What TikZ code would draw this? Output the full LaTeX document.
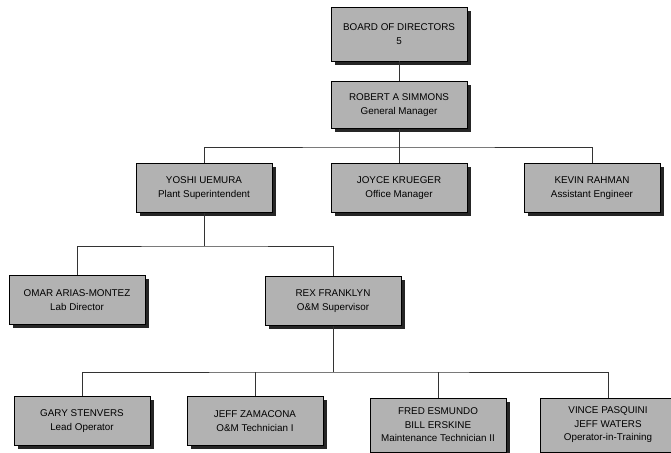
\documentclass[tikz,border=0pt]{standalone}
\usepackage{fontspec}
\setmainfont{Liberation Sans}
\usetikzlibrary{shadows}

\begin{document}
\begin{tikzpicture}[x=0.025cm, y=-0.025cm,
  staffbox/.style={rectangle, draw=black, line width=0.4pt, fill=black!30,
    minimum width=3.4cm, minimum height=1.22cm, align=center,
    font=\fontsize{7}{9.6}\selectfont,
    drop shadow={shadow xshift=0.09cm, shadow yshift=-0.09cm, fill=black!85, opacity=1}},
  link/.style={draw=black!80, line width=0.7pt}]
  \useasboundingbox (0,0) rectangle (671,453);
  \node[staffbox, minimum height=1.35cm] (board) at (399,34)  {BOARD OF DIRECTORS\\5};
  \node[staffbox, minimum height=1.18cm] (gm)    at (399,105) {ROBERT A SIMMONS\\General Manager};
  \node[staffbox] (plant)  at (204,188) {YOSHI UEMURA\\Plant Superintendent};
  \node[staffbox] (office) at (399,188) {JOYCE KRUEGER\\Office Manager};
  \node[staffbox] (asst)   at (592,188) {KEVIN RAHMAN\\Assistant Engineer};
  \node[staffbox] (lab)    at (77,300)  {OMAR ARIAS-MONTEZ\\Lab Director};
  \node[staffbox] (om)     at (333,301) {REX FRANKLYN\\O\&M Supervisor};
  \node[staffbox] (lead)   at (82,421)  {GARY STENVERS\\Lead Operator};
  \node[staffbox] (tech)   at (255,421) {JEFF ZAMACONA\\O\&M Technician I};
  \node[staffbox, minimum height=1.35cm] (maint) at (438,425) {FRED ESMUNDO\\BILL ERSKINE\\Maintenance Technician II};
  \node[staffbox, minimum height=1.35cm] (train) at (608,425) {VINCE PASQUINI\\JEFF WATERS\\Operator-in-Training};
  \coordinate (bus1) at (399,147);
  \coordinate (bus2) at (204,246);
  \coordinate (bus3) at (333,372);
  \draw[link] (board) -- (gm);
  \draw[link] (gm) -- (office);
  \draw[link] (plant) |- (bus1) -| (asst);
  \draw[link] (plant) -- (bus2);
  \draw[link] (lab) |- (bus2) -| (om);
  \draw[link] (om) -- (bus3);
  \draw[link] (lead) |- (bus3) -| (train);
  \draw[link] (tech) -- (tech |- bus3);
  \draw[link] (maint) -- (maint |- bus3);
\end{tikzpicture}
\end{document}
